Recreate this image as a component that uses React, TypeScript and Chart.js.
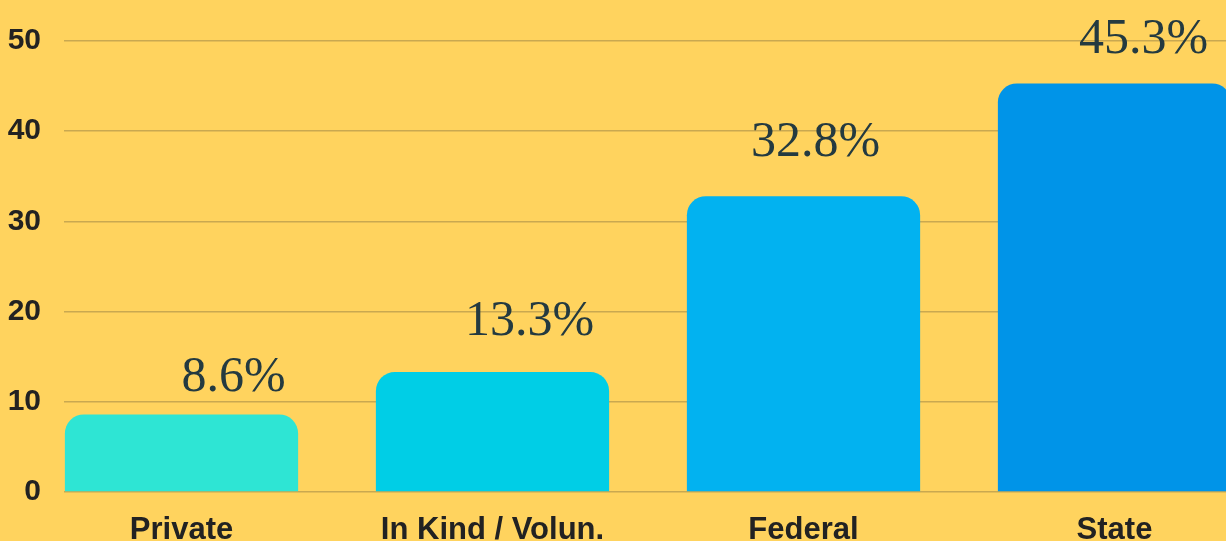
import React, { useEffect, useRef } from "react";
import { Chart, registerables } from "chart.js";

Chart.register(...registerables);

const categories = ["Private", "In Kind / Volun.", "Federal", "State"];
const values = [8.6, 13.3, 32.8, 45.3];
const valueLabels = ["8.6%", "13.3%", "32.8%", "45.3%"];
const barColors = ["#2EE5D4", "#00CEE6", "#02B2F0", "#0094E8"];
const yTicks = [0, 10, 20, 30, 40, 50];
// label placement tweaks (pixels) relative to bar top-centre
const labelDx = [52, 37, 12, 29];
const labelDy = [23, 37, 40, 30];

const BG = "#FFD35E";
const GRID = "#C9A850";
const TEXT = "#222222";
const LABEL = "#243A40";

export default function App() {
  const ref = useRef<HTMLCanvasElement | null>(null);

  useEffect(() => {
    const canvas = ref.current;
    if (!canvas) return;

    const valueLabelPlugin = {
      id: "valueLabels",
      afterDatasetsDraw(chart: any) {
        const ctx = chart.ctx;
        const meta = chart.getDatasetMeta(0);
        ctx.save();
        ctx.font = '50px "Liberation Serif", serif';
        ctx.fillStyle = LABEL;
        ctx.textAlign = "center";
        ctx.textBaseline = "alphabetic";
        meta.data.forEach((el: any, i: number) => {
          ctx.fillText(valueLabels[i], el.x + labelDx[i], el.y - labelDy[i]);
        });
        ctx.restore();
      },
    };

    const xMin = -117.5 / 311;
    const xMax = xMin + (1226 - 64) / 311;

    const chart = new Chart(canvas, {
      type: "bar",
      data: {
        datasets: [
          {
            data: values.map((v, i) => ({ x: i, y: v })),
            backgroundColor: barColors,
            borderRadius: { topLeft: 19, topRight: 19, bottomLeft: 0, bottomRight: 0 },
            borderSkipped: "start",
            categoryPercentage: 1,
            barPercentage: 0.75,
          },
        ],
      },
      options: {
        animation: false,
        responsive: false,
        maintainAspectRatio: false,
        layout: { padding: { top: 39, left: 0, right: 0, bottom: 0 } },
        plugins: {
          legend: { display: false },
          tooltip: { enabled: false },
        },
        scales: {
          x: {
            type: "linear",
            offset: false,
            bounds: "data",
            min: xMin,
            max: xMax,
            grid: { display: false, drawTicks: false, offset: false },
            border: { display: false },
            afterBuildTicks: (scale: any) => {
              scale.ticks = categories.map((_, i) => ({ value: i }));
            },
            afterFit: (scale: any) => {
              scale.height = 49;
            },
            ticks: {
              autoSkip: false,
              maxRotation: 0,
              padding: 20,
              color: TEXT,
              font: { family: '"Liberation Sans", Arial, sans-serif', size: 31, weight: "bold" },
              callback: (v: any) => categories[Math.round(Number(v))] ?? "",
            },
          },
          y: {
            min: 0,
            max: 50,
            afterBuildTicks: (scale: any) => {
              scale.ticks = yTicks.map((v) => ({ value: v }));
            },
            afterFit: (scale: any) => {
              scale.width = 64;
            },
            grid: { color: GRID, lineWidth: 1.5, drawTicks: false },
            border: { display: false },
            ticks: {
              padding: 23,
              color: TEXT,
              font: { family: '"Liberation Sans", Arial, sans-serif', size: 30, weight: "bold" },
            },
          },
        },
      },
      plugins: [valueLabelPlugin],
    } as any);

    return () => chart.destroy();
  }, []);

  return (
    <div
      style={{
        position: "fixed",
        left: 0,
        top: 0,
        width: 1226,
        height: 541,
        background: BG,
        overflow: "hidden",
      }}
    >
      <canvas ref={ref} width={1226} height={541} style={{ display: "block" }} />
    </div>
  );
}
